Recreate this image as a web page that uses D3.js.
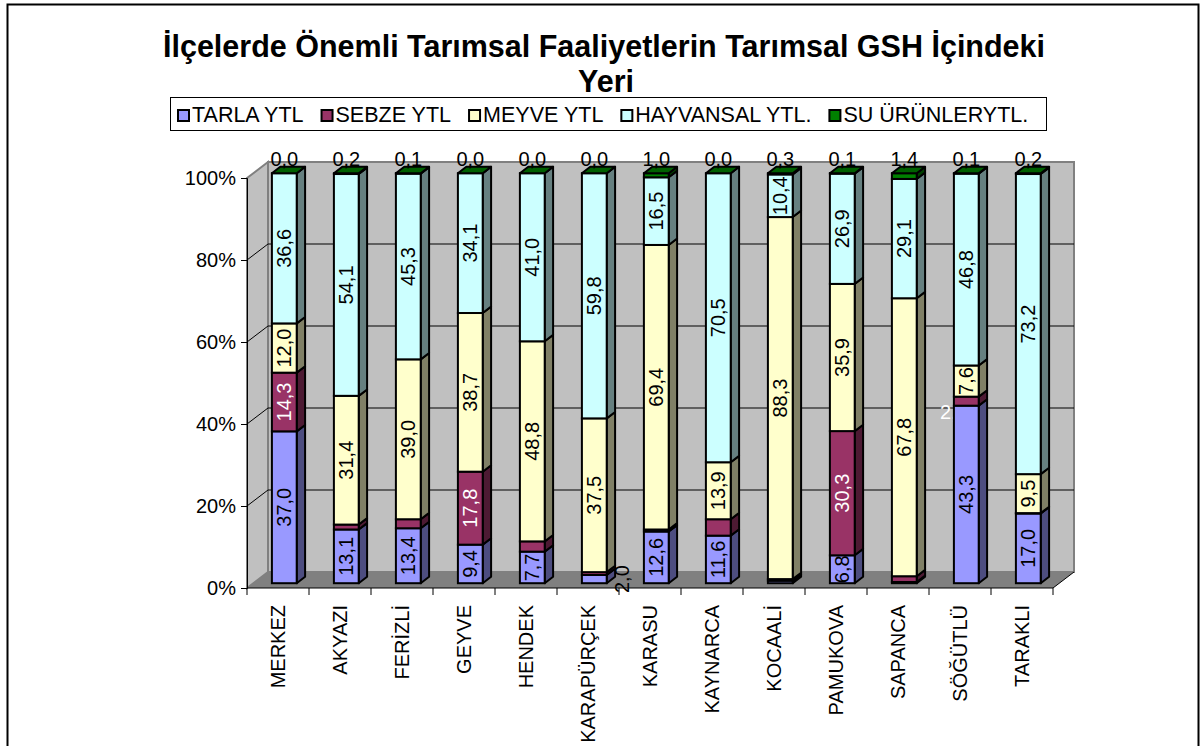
<!DOCTYPE html>
<html>
<head>
<meta charset="utf-8">
<script src="https://cdn.jsdelivr.net/npm/d3@7"></script>
<style>
  body { margin: 0; background: #fff; }
  svg { display: block; }
  text { font-family: "Liberation Sans", Arial, sans-serif; }
</style>
</head>
<body>
<svg id="chart" width="1202" height="746"></svg>
<script>
// ilçeler
const categories = ["MERKEZ", "AKYAZI", "FERİZLİ", "GEYVE", "HENDEK", "KARAPÜRÇEK", "KARASU",
  "KAYNARCA", "KOCAALİ", "PAMUKOVA", "SAPANCA", "SÖĞÜTLÜ", "TARAKLI"];

// yüzde paylar (alttan üste)
const tarla      = [37.0, 13.1, 13.4,  9.4,  7.7,  2.0, 12.6, 11.6,  0.6,  6.8,  0.3, 43.3, 17.0];
const sebze      = [14.3,  1.2,  2.2, 17.8,  2.5,  0.7,  0.5,  4.0,  0.4, 30.3,  1.4,  2.2,  0.1];
const meyve      = [12.0, 31.4, 39.0, 38.7, 48.8, 37.5, 69.4, 13.9, 88.3, 35.9, 67.8,  7.6,  9.5];
const hayvansal  = [36.6, 54.1, 45.3, 34.1, 41.0, 59.8, 16.5, 70.5, 10.4, 26.9, 29.1, 46.8, 73.2];
const suUrunleri = [ 0.0,  0.2,  0.1,  0.0,  0.0,  0.0,  1.0,  0.0,  0.3,  0.1,  1.4,  0.1,  0.2];

const seriesNames = ["TARLA YTL", "SEBZE YTL", "MEYVE YTL", "HAYVANSAL YTL.", "SU ÜRÜNLERYTL."];
const seriesColors = ["#9999FF", "#993366", "#FFFFCC", "#CCFFFF", "#008000"];
const yTicks = [0, 20, 40, 60, 80, 100];

const seriesValues = [tarla, sebze, meyve, hayvansal, suUrunleri];
const rows = categories.map((c, i) => {
  const r = {cat: c};
  seriesNames.forEach((s, k) => r[s] = seriesValues[k][i]);
  return r;
});
const stacked = d3.stack().keys(seriesNames).offset(d3.stackOffsetExpand)(rows);

const svg = d3.select("#chart");
const fmt = v => d3.format(".1f")(v).replace(".", ",");

// 3d geometry
const depth = {x: 21, y: -16};
const barFront = 0.3, barBack = 0.7;
const x = d3.scaleBand().domain(categories).range([247, 1053]);
const y = d3.scaleLinear().domain([0, 1]).range([588, 178]);
const barW = x.bandwidth() * 0.4;

// outer frame
svg.append("rect").attr("x", 7.5).attr("y", 4.5).attr("width", 1191).attr("height", 800)
  .attr("fill", "#fff").attr("stroke", "#000").attr("stroke-width", 2);

// walls
const x0 = x.range()[0], x1 = x.range()[1];
const pts = a => a.map(p => p.join(",")).join(" ");
svg.append("polygon")
  .attr("points", pts([[x0, y(1)], [x0 + depth.x, y(1) + depth.y], [x0 + depth.x, y(0) + depth.y], [x0, y(0)]]))
  .attr("fill", "#C0C0C0").attr("stroke", "#808080").attr("stroke-width", 2);
svg.append("polygon")
  .attr("points", pts([[x0 + depth.x, y(1) + depth.y], [x1 + depth.x, y(1) + depth.y],
    [x1 + depth.x, y(0) + depth.y], [x0 + depth.x, y(0) + depth.y]]))
  .attr("fill", "#C0C0C0").attr("stroke", "#808080").attr("stroke-width", 2);
svg.append("polygon")
  .attr("points", pts([[x0, y(0)], [x0 + depth.x, y(0) + depth.y], [x1 + depth.x, y(0) + depth.y], [x1, y(0)]]))
  .attr("fill", "#808080");

// grid lines
const grid = svg.append("g").attr("stroke", "#000").attr("stroke-width", 1).attr("fill", "none");
yTicks.filter(t => t > 0 && t < 100).forEach(t => {
  const yy = y(t / 100);
  grid.append("polyline")
    .attr("points", pts([[x0, yy], [x0 + depth.x, yy + depth.y], [x1 + depth.x, yy + depth.y]]));
});

// y axis
const yAxis = d3.axisLeft(d3.scaleLinear().domain([0, 100]).range([588, 178]))
  .tickValues(yTicks).tickFormat(d => d + "%").tickSize(6).tickPadding(5);
const ya = svg.append("g").attr("transform", `translate(${x0},0)`).call(yAxis);
ya.select(".domain").attr("stroke", "#000");
ya.selectAll(".tick line").attr("stroke", "#000");
ya.selectAll(".tick text").attr("font-size", 20).attr("fill", "#000")
  .attr("font-family", "Liberation Sans, Arial, sans-serif");

// x axis
const xa = svg.append("g").attr("transform", `translate(0,${y(0)})`);
xa.append("line").attr("x1", x0).attr("x2", x1).attr("stroke", "#000");
xa.append("line").attr("x1", x1).attr("y1", 0).attr("x2", x1 + depth.x).attr("y2", depth.y).attr("stroke", "#000");
categories.concat([null]).forEach((c, i) => {
  const xx = c ? x(c) : x1;
  xa.append("line").attr("x1", xx).attr("x2", xx).attr("y1", 0).attr("y2", 7).attr("stroke", "#000");
});
categories.forEach(c => {
  xa.append("text")
    .attr("transform", `translate(${x(c) + x.bandwidth() / 2},17) rotate(-90)`)
    .attr("text-anchor", "end").attr("dominant-baseline", "central")
    .attr("font-size", 20).attr("fill", "#000").text(c);
});

// bars
const fx = barFront * depth.x, fy = barFront * depth.y;
const dx = (barBack - barFront) * depth.x, dy = (barBack - barFront) * depth.y;
const nudged = {"KARAPÜRÇEK|0": {dx: 28, dy: 0, rot: true}, "SÖĞÜTLÜ|1": {dx: -16, dy: 11, rot: false}};

const gBars = svg.append("g");
// labels that sit behind bars
const behind = gBars.append("g");

categories.forEach((c, i) => {
  const xl = x(c) + (x.bandwidth() - barW) / 2 + fx, xr = xl + barW;
  const g = gBars.append("g");
  stacked.forEach((ser, k) => {
    const d = ser[i];
    const Y0 = y(d[0]) + fy, Y1 = y(d[1]) + fy;
    const col = d3.color(seriesColors[k]);
    const side = d3.rgb(col.r * 0.5, col.g * 0.5, col.b * 0.5);
    const top = d3.rgb(col.r * 0.75, col.g * 0.75, col.b * 0.75);
    g.append("polygon").attr("points", pts([[xr, Y1], [xr + dx, Y1 + dy], [xr + dx, Y0 + dy], [xr, Y0]]))
      .attr("fill", side).attr("stroke", "#000").attr("stroke-width", 2).attr("stroke-linejoin", "round");
    g.append("rect").attr("x", xl).attr("y", Y1).attr("width", barW).attr("height", Y0 - Y1)
      .attr("fill", col).attr("stroke", "#000").attr("stroke-width", 2);
    if (k === stacked.length - 1) {
      g.append("polygon").attr("points", pts([[xl, Y1], [xr, Y1], [xr + dx, Y1 + dy], [xl + dx, Y1 + dy]]))
        .attr("fill", top).attr("stroke", "#000").attr("stroke-width", 2).attr("stroke-linejoin", "round");
      g.append("text").attr("x", (xl + xr) / 2).attr("y", Y1 - 7)
        .attr("text-anchor", "middle").attr("font-size", 20).attr("fill", "#000")
        .text(fmt(seriesValues[k][i]));
      return;
    }
    const v = seriesValues[k][i];
    const cx = (xl + xr) / 2, cy = (Y0 + Y1) / 2;
    const fill = k === 1 ? "#fff" : "#000";
    const nd = nudged[c + "|" + k];
    if (nd) {
      const t = behind.append("text").attr("font-size", 20).attr("fill", fill).text(fmt(v));
      if (nd.rot) {
        t.attr("transform", `translate(${cx + nd.dx},${cy + nd.dy}) rotate(-90)`)
          .attr("text-anchor", "middle").attr("dominant-baseline", "central");
      } else {
        t.attr("x", cx + nd.dx - barW / 2 + 2).attr("y", cy + nd.dy)
          .attr("dominant-baseline", "central");
      }
    } else if (v >= 6) {
      g.append("text").attr("transform", `translate(${cx},${cy}) rotate(-90)`)
        .attr("text-anchor", "middle").attr("dominant-baseline", "central")
        .attr("font-size", 20).attr("fill", fill).text(fmt(v));
    }
  });
});

// title
const title = svg.append("text").attr("x", 604).attr("text-anchor", "middle")
  .attr("font-size", 30.5).attr("font-weight", "bold").attr("fill", "#000");
title.append("tspan").attr("x", 604).attr("y", 57).text("İlçelerde Önemli Tarımsal Faaliyetlerin Tarımsal GSH İçindeki");
title.append("tspan").attr("x", 606).attr("y", 92).text("Yeri");

// legend
const lg = svg.append("g");
lg.append("rect").attr("x", 170.5).attr("y", 97.5).attr("width", 876).attr("height", 33)
  .attr("fill", "#fff").attr("stroke", "#000").attr("stroke-width", 1);
let lx = 178;
seriesNames.forEach((s, k) => {
  lg.append("rect").attr("x", lx).attr("y", 110).attr("width", 11).attr("height", 11)
    .attr("fill", seriesColors[k]).attr("stroke", "#000").attr("stroke-width", 2);
  const t = lg.append("text").attr("x", lx + 14).attr("y", 122).attr("font-size", 21.5).attr("fill", "#000").text(s);
  lx += 14 + t.node().getComputedTextLength() + 18;
});
</script>
</body>
</html>
